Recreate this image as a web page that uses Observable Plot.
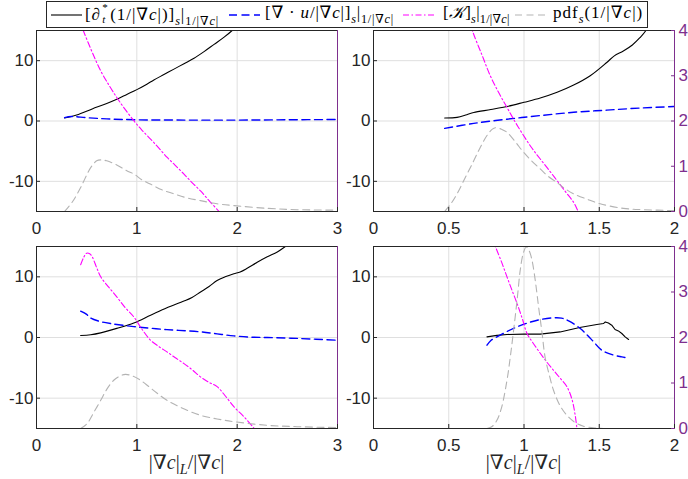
<!DOCTYPE html>
<html>
<head>
<meta charset="utf-8">
<script src="https://cdn.jsdelivr.net/npm/d3@7"></script>
<script src="https://cdn.jsdelivr.net/npm/@observablehq/plot@0.6"></script>
<style>
  body { margin: 0; background: #fff; }
  #fig { position: relative; width: 688px; height: 479px; overflow: hidden; background: #fff;
         font-family: "Liberation Sans", Arial, sans-serif; }
  .panel { position: absolute; }
  .panel svg { overflow: visible; }
  #legend { position: absolute; left: 46px; top: 1px; width: 602px; height: 27px; box-sizing: border-box;
            border: 1px solid #262626; background: #fff;
            font-family: "Liberation Serif", "DejaVu Serif", serif; font-size: 17px; color: #000;
            white-space: nowrap; z-index: 2; }
  #legend svg { position: absolute; top: 8px; }
  #legend .lab { position: absolute; top: 1px; line-height: 20px; }
  .m { font-family: "Liberation Serif", "DejaVu Serif", serif; }
  .m sub { font-size: 72%; vertical-align: -0.38em; line-height: 0; }
  .ss { display: inline-block; position: relative; width: 0.55em; height: 1em; }
  .ss span { position: absolute; left: 0.12em; font-size: 65%; line-height: 0.9; }
  .ss .sup { top: 0; }
  .ss .sub { top: 1.12em; }
  .xt { position: absolute; top: 450px; transform: translateX(-50%); font-size: 20px; color: #262626; white-space: nowrap; }
</style>
</head>
<body>
<div id="fig">
  <div id="legend"></div>
</div>
<script>
// Colours and shared scales
const AXIS = "#262626", PURPLE = "#7E2F8E", GRID = "#dfdfdf";
const BLACK = "#000000", BLUE = "#0000ff", MAGENTA = "#ff00ff", GREY = "#b3b3b3";

const yDomain = [-15, 15];
const yTicks = [-10, 0, 10];
const pdfDomain = [0, 4];
const pdfTicks = [0, 1, 2, 3, 4];
const xTicksWide = [0, 1, 2, 3];
const xTicksNarrow = [0, 0.5, 1, 1.5, 2];

// Top-left panel: [x, value]; pdf in its own units (right axis, 0–4)
const tlSolid = [[0.28,0.5],[0.4,1.0],[0.555,2.0],[0.7,2.9],[0.8,3.6],[0.9,4.4],[1.0,5.2],[1.1,6.1],[1.17,6.8],[1.27,7.7],[1.37,8.6],[1.47,9.5],[1.57,10.4],[1.67,11.5],[1.77,12.7],[1.87,13.9],[1.95,15.0],[2.02,16.2]];
const tlDiv = [[0.28,0.55],[0.35,0.75],[0.5,0.55],[0.7,0.35],[1.0,0.2],[1.5,0.15],[2.0,0.15],[2.5,0.2],[3.0,0.25]];
const tlCurv = [[0.42,17],[0.466,15],[0.55,11.6],[0.64,8.3],[0.72,6.0],[0.80,3.9],[0.88,2.0],[0.97,0.05],[1.05,-1.5],[1.137,-3.0],[1.22,-4.5],[1.30,-6.0],[1.38,-7.3],[1.47,-8.8],[1.55,-10.2],[1.635,-11.6],[1.72,-13.2],[1.82,-15],[1.86,-15.8]];
const tlPdf = [[0.28,0],[0.36,0.22],[0.44,0.53],[0.54,0.97],[0.6,1.12],[0.64,1.14],[0.7,1.12],[0.8,1.03],[0.9,0.9],[0.97,0.83],[1.05,0.7],[1.14,0.6],[1.25,0.48],[1.37,0.39],[1.5,0.3],[1.635,0.24],[1.8,0.17],[1.97,0.13],[2.3,0.07],[2.6,0.04],[3.0,0.03]];

// Top-right panel
const trSolid = [[0.473,0.5],[0.555,0.6],[0.62,1.05],[0.666,1.4],[0.78,1.9],[0.887,2.4],[1.0,3.1],[1.108,3.8],[1.22,4.75],[1.33,5.95],[1.44,7.5],[1.55,9.7],[1.6,10.8],[1.66,11.6],[1.72,12.6],[1.77,13.8],[1.81,15],[1.84,16.5]];
const trDiv = [[0.473,-1.22],[0.666,-0.4],[0.887,0.3],[1.108,0.9],[1.33,1.45],[1.55,1.8],[1.77,2.15],[2.0,2.4]];
const trCurv = [[0.64,16.5],[0.661,14.7],[0.72,11.0],[0.776,7.5],[0.83,4.8],[0.887,2.25],[0.94,-0.1],[0.997,-2.4],[1.05,-4.4],[1.108,-6.3],[1.165,-8.1],[1.22,-9.9],[1.275,-11.7],[1.33,-13.5],[1.36,-15],[1.38,-16]];
const trPdf = [[0.473,0],[0.52,0.2],[0.555,0.39],[0.61,0.75],[0.666,1.12],[0.71,1.42],[0.754,1.68],[0.79,1.82],[0.81,1.85],[0.85,1.82],[0.887,1.75],[0.94,1.55],[0.997,1.31],[1.05,1.12],[1.108,0.94],[1.16,0.78],[1.22,0.64],[1.27,0.51],[1.33,0.39],[1.42,0.27],[1.506,0.17],[1.66,0.07],[1.8,0.04],[2.0,0.02]];

// Bottom-left panel
const blSolid = [[0.44,0.33],[0.54,0.45],[0.64,0.76],[0.8,1.5],[0.97,2.4],[1.137,3.67],[1.30,4.9],[1.47,6.0],[1.55,6.6],[1.635,7.5],[1.72,8.4],[1.80,9.4],[1.88,10.0],[1.967,10.5],[2.03,10.8],[2.10,11.4],[2.2,12.4],[2.30,13.3],[2.4,14.1],[2.48,15],[2.55,15.8]];
const blDiv = [[0.44,4.33],[0.5,3.8],[0.54,3.2],[0.62,2.7],[0.74,2.3],[0.97,1.8],[1.30,1.3],[1.635,0.93],[1.8,0.6],[1.967,0.27],[2.15,0.05],[2.30,0.0],[2.63,-0.17],[3.0,-0.45]];
const blCurv = [[0.44,12.0],[0.47,13.2],[0.50,13.9],[0.53,13.8],[0.555,13.3],[0.6,11.5],[0.64,10.0],[0.72,8.3],[0.80,6.7],[0.88,5.0],[0.97,3.4],[1.05,1.4],[1.137,-0.45],[1.22,-1.5],[1.30,-2.37],[1.38,-3.3],[1.47,-4.3],[1.55,-5.3],[1.635,-6.5],[1.72,-7.4],[1.80,-8.1],[1.88,-9.6],[1.967,-11.4],[2.07,-13.1],[2.17,-15],[2.2,-15.6]];
const blPdf = [[0.44,0],[0.505,0.11],[0.57,0.35],[0.64,0.62],[0.7,0.86],[0.77,1.06],[0.83,1.15],[0.887,1.19],[0.96,1.15],[1.037,1.06],[1.12,0.92],[1.2,0.78],[1.30,0.62],[1.45,0.45],[1.635,0.29],[1.8,0.21],[1.967,0.15],[2.3,0.07],[2.6,0.04],[3.0,0.02]];

// Bottom-right panel
const brSolid = [[0.754,0.1],[0.82,0.35],[0.887,0.5],[1.0,0.55],[1.108,0.55],[1.24,0.92],[1.37,1.65],[1.484,2.14],[1.528,2.3],[1.54,2.57],[1.561,2.4],[1.583,2.03],[1.605,1.32],[1.627,1.09],[1.65,0.66],[1.672,0.1],[1.695,-0.33]];
const brDiv = [[0.754,-1.27],[0.78,-0.5],[0.82,0.1],[0.88,0.9],[0.954,1.75],[1.03,2.45],[1.108,2.96],[1.196,3.25],[1.25,3.2],[1.3,2.7],[1.374,1.48],[1.42,0.4],[1.463,-0.72],[1.517,-2.1],[1.595,-2.9],[1.65,-3.2],[1.695,-3.4]];
const brCurv = [[0.79,16.5],[0.81,15],[0.85,12.5],[0.887,10],[0.92,7.8],[0.954,5.6],[0.99,3.0],[1.02,0.66],[1.06,-0.9],[1.108,-2.6],[1.15,-4.0],[1.196,-5.4],[1.24,-6.7],[1.285,-8.1],[1.32,-10.3],[1.34,-12.8],[1.352,-15],[1.357,-15.8]];
const brPdf = [[0.754,0],[0.79,0.05],[0.82,0.18],[0.85,0.45],[0.887,1.06],[0.91,1.6],[0.931,2.16],[0.955,2.85],[0.975,3.48],[0.995,3.85],[1.015,3.99],[1.035,3.9],[1.053,3.7],[1.075,3.25],[1.097,2.67],[1.12,2.1],[1.14,1.57],[1.17,1.15],[1.196,0.84],[1.24,0.5],[1.285,0.29],[1.34,0.13],[1.395,0.05],[1.48,0.01],[1.55,0]];

// pdf values share the frame with the left axis: 0–4 spans -15–15
const pdfToY = p => yDomain[0] + (p - pdfDomain[0]) * (yDomain[1] - yDomain[0]) / (pdfDomain[1] - pdfDomain[0]);
const yToPdf = v => pdfDomain[0] + (v - yDomain[0]) * (pdfDomain[1] - pdfDomain[0]) / (yDomain[1] - yDomain[0]);

function panel(o) {
  const X = d => d[0], Y = d => d[1];
  const marks = [
    Plot.gridX({ticks: o.xTicks, stroke: GRID, strokeOpacity: 1}),
    Plot.gridY({ticks: yTicks, stroke: GRID, strokeOpacity: 1}),
    Plot.line(o.solid, {x: X, y: Y, stroke: BLACK, strokeWidth: 1.1, curve: o.jagged ? "linear" : "catmull-rom", clip: true}),
    Plot.line(o.div, {x: X, y: Y, stroke: BLUE, strokeWidth: 1.4, strokeDasharray: "8,4.5", curve: "catmull-rom", clip: true}),
    Plot.line(o.curv, {x: X, y: Y, stroke: MAGENTA, strokeWidth: 1.1, strokeDasharray: "6,2.5,1.5,2.5", curve: "catmull-rom", clip: true}),
    Plot.line(o.pdf, {x: X, y: d => pdfToY(d[1]), stroke: GREY, strokeWidth: 1.1, strokeDasharray: "7,4.5", curve: "catmull-rom", clip: true}),
    Plot.frame({stroke: AXIS}),
    Plot.ruleX([o.xDomain[1]], {stroke: PURPLE}),
    Plot.axisX({ticks: o.xTicks, tickSize: -4, tickPadding: 14.5, tickFormat: d => String(d), label: null, color: AXIS, fontSize: 17}),
    Plot.axisY({ticks: yTicks, tickSize: -4, tickPadding: 7, tickFormat: d => String(d), label: null, color: AXIS, fontSize: 17})
  ];
  if (o.right) {
    marks.push(Plot.axisY({anchor: "right", ticks: pdfTicks.map(pdfToY), tickSize: -4, tickPadding: 8,
      tickFormat: v => String(Math.round(yToPdf(v))), label: null, color: PURPLE, fontSize: 17}));
  }
  const svg = Plot.plot({
    width: o.width, height: o.height,
    marginLeft: o.ml, marginRight: o.mr, marginTop: o.mt, marginBottom: o.mb,
    x: {domain: o.xDomain},
    y: {domain: yDomain},
    style: {fontFamily: '"Liberation Sans", Arial, sans-serif', fontSize: "17px", color: AXIS, background: "transparent", overflow: "visible"},
    marks
  });
  const wrap = document.createElement("div");
  wrap.className = "panel";
  wrap.style.left = o.left + "px";
  wrap.style.top = o.top + "px";
  wrap.appendChild(svg);
  document.getElementById("fig").appendChild(wrap);
}

panel({left: 0, top: 20, width: 344, height: 220, ml: 36, mr: 7, mt: 10, mb: 29, xDomain: [0, 3], xTicks: xTicksWide,
       solid: tlSolid, div: tlDiv, curv: tlCurv, pdf: tlPdf, right: false});
panel({left: 344, top: 20, width: 344, height: 220, ml: 29, mr: 14, mt: 10, mb: 29, xDomain: [0, 2], xTicks: xTicksNarrow,
       solid: trSolid, div: trDiv, curv: trCurv, pdf: trPdf, right: true});
panel({left: 0, top: 236, width: 344, height: 243, ml: 36, mr: 7, mt: 10, mb: 51, xDomain: [0, 3], xTicks: xTicksWide,
       solid: blSolid, div: blDiv, curv: blCurv, pdf: blPdf, right: false});
panel({left: 344, top: 236, width: 344, height: 243, ml: 29, mr: 14, mt: 10, mb: 51, xDomain: [0, 2], xTicks: xTicksNarrow,
       solid: brSolid, div: brDiv, curv: brCurv, pdf: brPdf, right: true, jagged: true});

// x-axis titles under the bottom row
const xTitle = '|∇<i>c</i>|<sub><i>L</i></sub>/|∇<i>c</i>|';
for (const cx of [186.5, 523.5]) {
  const t = document.createElement("div");
  t.className = "xt m";
  t.style.left = cx + "px";
  t.innerHTML = xTitle;
  document.getElementById("fig").appendChild(t);
}

// Legend: line sample position, label position and label span inside the box
const legendItems = [
  {stroke: BLACK, dash: null, w: 1.1, line: 4, text: 38, span: 136,
   html: '[∂<span class="ss"><span class="sup">*</span><span class="sub"><i>t</i></span></span>(1/|∇<i>c</i>|)]<sub><i>s</i></sub>|<sub>1/|∇<i>c</i>|</sub>'},
  {stroke: BLUE, dash: "8,4.5", w: 1.4, line: 182, text: 218, span: 129,
   html: '[∇ · <i>u</i>/|∇<i>c</i>|]<sub><i>s</i></sub>|<sub>1/|∇<i>c</i>|</sub>'},
  {stroke: MAGENTA, dash: "6,2.5,1.5,2.5", w: 1.1, line: 356, text: 396, span: 67,
   html: '[<i>𝒦</i>]<sub><i>s</i></sub>|<sub>1/|∇<i>c</i>|</sub>'},
  {stroke: GREY, dash: "7,4.5", w: 1.1, line: 468, text: 506, span: 92,
   html: 'pdf<sub><i>s</i></sub>(1/|∇<i>c</i>|)'}
];
const legend = document.getElementById("legend");
for (const it of legendItems) {
  legend.insertAdjacentHTML("beforeend",
    `<svg width="31" height="10" style="left:${it.line}px"><line x1="0" x2="31" y1="5" y2="5" stroke="${it.stroke}" stroke-width="${it.w}" ${it.dash ? `stroke-dasharray="${it.dash}"` : ""}/></svg>`);
  const lab = document.createElement("span");
  lab.className = "lab m";
  lab.style.left = it.text + "px";
  lab.innerHTML = it.html;
  legend.appendChild(lab);
  // spread glyphs slightly so each label fills its slot
  const n = lab.textContent.length;
  const extra = it.span - lab.getBoundingClientRect().width;
  if (extra > 0 && n > 1) lab.style.letterSpacing = Math.min(extra / n, 1) + "px";
}
</script>
</body>
</html>
